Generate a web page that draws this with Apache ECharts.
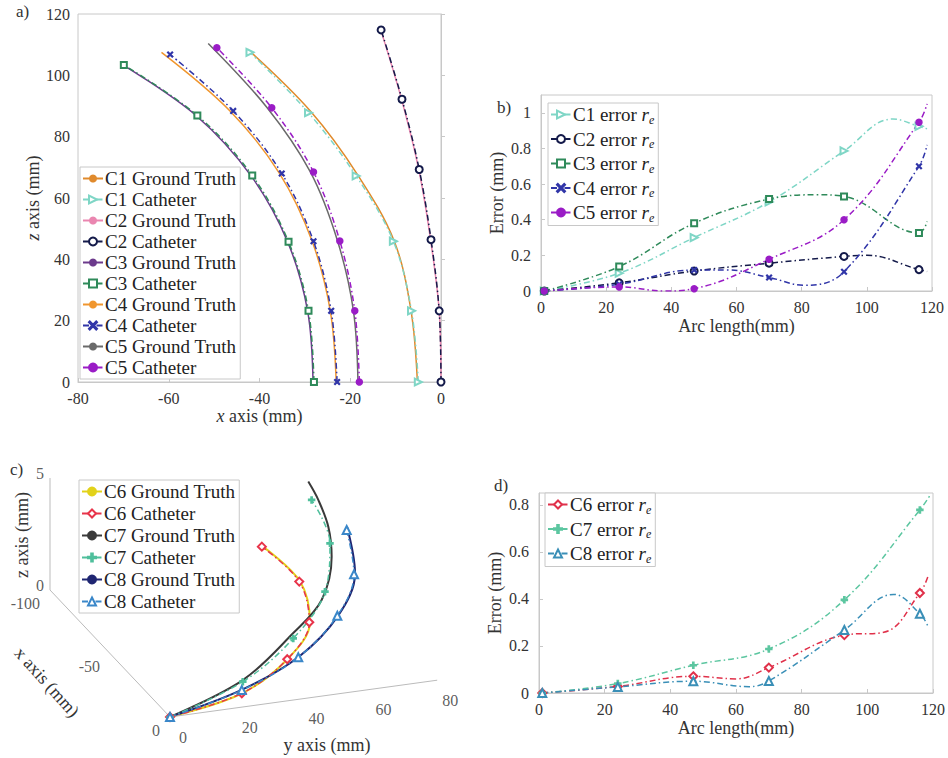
<!DOCTYPE html>
<html>
<head>
<meta charset="utf-8">
<script src="https://cdn.jsdelivr.net/npm/echarts@6.0.0/dist/echarts.min.js"></script>
<style>
html, body { margin: 0; padding: 0; background: #fff; }
#main { width: 948px; height: 758px; }
</style>
</head>
<body>
<div id="main"></div>
<script>
// ---- panel a : catheter shapes in the x-z plane (mm) ----
var aXTicks = [-80, -60, -40, -20, 0];
var aZTicks = [0, 20, 40, 60, 80, 100, 120];

var c1CathX = [-5.0, -6.5, -10.5, -18.7, -29.2, -42.1];
var c1CathZ = [0, 23.2, 45.9, 67.2, 87.8, 107.5];
var c1TruthX = [-5.2, -6.6, -10.3, -18.3, -28.7, -42.6];
var c1TruthZ = [0, 23.2, 45.9, 67.4, 88.2, 108.5];

var c2CathX = [0, -0.4, -2.2, -4.8, -8.6, -13.2];
var c2CathZ = [0, 23.2, 46.4, 69.3, 92.2, 114.8];
var c2TruthX = [0, -0.4, -2.3, -4.9, -8.7, -13.3];
var c2TruthZ = [0, 23.2, 46.4, 69.3, 92.2, 114.9];

var c3CathX = [-28.0, -29.2, -33.6, -41.6, -53.7, -69.9];
var c3CathZ = [0, 23.2, 45.7, 67.3, 86.9, 103.4];
var c3TruthX = [-28.2, -29.4, -33.8, -41.9, -54.0, -70.3];
var c3TruthZ = [0, 23.2, 45.7, 67.3, 86.9, 103.6];

var c4CathX = [-22.9, -24.2, -28.1, -35.1, -45.8, -59.7];
var c4CathZ = [0, 23.2, 45.9, 68.0, 88.4, 106.8];
var c4TruthX = [-23.1, -24.4, -28.4, -35.6, -46.5, -61.6];
var c4TruthZ = [0, 23.2, 45.9, 68.0, 88.4, 107.5];

var c5CathX = [-18.0, -19.0, -22.3, -28.1, -37.3, -49.4];
var c5CathZ = [0, 23.2, 46.0, 68.5, 89.4, 109.0];
var c5TruthX = [-18.3, -19.3, -22.8, -28.8, -38.4, -51.3];
var c5TruthZ = [0, 23.2, 46.0, 68.5, 89.6, 110.4];

// ---- panels b, d : error along the arc ----
var arcLen = [1, 24, 47, 70, 93, 116];
var errC1 = [0, 0.10, 0.30, 0.50, 0.786, 0.924];
var errC2 = [0, 0.046, 0.112, 0.156, 0.194, 0.12];
var errC3 = [0, 0.137, 0.38, 0.516, 0.531, 0.326];
var errC4 = [0, 0.038, 0.118, 0.076, 0.108, 0.70];
var errC5 = [0, 0.023, 0.013, 0.178, 0.40, 0.947];
var errC6 = [0, 0.028, 0.071, 0.108, 0.246, 0.425];
var errC7 = [0, 0.04, 0.118, 0.187, 0.396, 0.778];
var errC8 = [0, 0.026, 0.05, 0.051, 0.268, 0.337];
// spline points between / after the markers (no marker drawn)
var bendC1 = [[108, 0.965], [118.5, 0.91]];
var bendC2 = [[100, 0.2], [118.5, 0.11]];
var bendC3 = [[85, 0.54], [118.5, 0.39]];
var bendC4 = [[57, 0.118], [81, 0.032], [118.5, 0.82]];
var bendC5 = [[38, 0.0], [118.5, 1.05]];
var bendC6 = [[60, 0.06], [105, 0.258], [118.5, 0.497]];
var bendC7 = [[119, 0.838]];
var bendC8 = [[64, 0.027], [108, 0.419], [118.5, 0.283]];
var errXTicks = [0, 20, 40, 60, 80, 100, 120];

// ---- panel c : 3-D shapes (y, z in mm, curves lie in the x = 0 plane) ----
var c6CathY = [0, 21.5, 35.1, 41.7, 38.7, 27.5];
var c6CathZ = [0, 0.62, 1.86, 3.37, 5.25, 7.04];
var c6TruthY = [0, 21.3, 35.0, 41.9, 38.9, 27.3];
var c6TruthZ = [0, 0.6, 1.84, 3.37, 5.26, 7.1];
var c7CathY = [0, 21.8, 36.9, 46.4, 47.9, 42.4];
var c7CathZ = [0, 1.13, 2.75, 4.64, 6.77, 8.82];
var c7TruthY = [0, 21.8, 36.9, 45.4, 48.4, 47.4, 44.4, 41.4];
var c7TruthZ = [0, 1.2, 2.99, 4.29, 6.16, 7.52, 8.78, 9.66];
var c8CathY = [0, 21.5, 38.4, 50.1, 55.1, 52.9];
var c8CathZ = [0, 0.76, 1.88, 3.49, 5.24, 7.26];
var c8TruthY = [0, 21.6, 38.6, 50.4, 55.4, 53.0];
var c8TruthZ = [0, 0.78, 1.9, 3.5, 5.26, 7.4];
var cXTicks = [-100, -50, 0];
var cYTicks = [0, 20, 40, 60, 80];
var cZTicks = [0, 5];

var SERIF = '"Liberation Serif", "Times New Roman", serif';
var BOX = '#c8c8c8';
var TXT = '#333';
var DASH = [6, 3, 1.5, 3];
var CROSS = 'path://M0,1L1,0L5,4L9,0L10,1L6,5L10,9L9,10L5,6L1,10L0,9L4,5Z';
var PLUS = 'path://M4,0H6V4H10V6H6V10H4V6H0V4H4Z';

function pairs(xs, ys) {
  return xs.map(function (x, i) { return [x, ys[i]]; });
}
function errData(ys, bends) {
  var pts = arcLen.map(function (x, i) { return { value: [x, ys[i]] }; });
  bends.forEach(function (p) { pts.push({ value: p, symbol: 'none' }); });
  pts.sort(function (p, q) { return p.value[0] - q.value[0]; });
  return pts;
}
// oblique view used in panel c (page pixels, grid 3 spans the whole page)
function proj(x, y, z) {
  return [170 + 1.2 * x + 3.34 * y, 717 + 1.27 * x - 0.46 * y - 22.4 * z];
}
function proj3(ys, zs) {
  return ys.map(function (y, i) { return proj(0, y, zs[i]); });
}

function valAxis(idx, min, max, interval, name, gap, extra) {
  var ax = {
    type: 'value', gridIndex: idx, min: min, max: max, interval: interval,
    name: name, nameLocation: 'middle', nameGap: gap,
    nameTextStyle: { fontFamily: SERIF, fontSize: 18, color: TXT,
      rich: { i: { fontFamily: SERIF, fontStyle: 'italic', fontSize: 18, color: TXT } } },
    axisLine: { show: true, lineStyle: { color: BOX } },
    axisTick: { show: true, inside: true, length: 4, lineStyle: { color: BOX } },
    axisLabel: { color: TXT, fontFamily: SERIF, fontSize: 16, margin: 8 },
    splitLine: { show: false }
  };
  return Object.assign(ax, extra || {});
}

function truth(name, color, xs, ys, idx) {
  return { name: name, type: 'line', xAxisIndex: idx, yAxisIndex: idx, data: pairs(xs, ys),
    smooth: 0.35, symbol: 'none', color: color, lineStyle: { color: color, width: 1.5 }, z: 2 };
}
function cath(name, color, xs, ys, idx, symbol, size, extra) {
  return Object.assign({ name: name, type: 'line', xAxisIndex: idx, yAxisIndex: idx, data: pairs(xs, ys),
    smooth: 0.35, symbol: symbol, symbolSize: size, showAllSymbol: true, color: color,
    itemStyle: { color: color, borderColor: color, borderWidth: 1.5 },
    lineStyle: { color: color, width: 1.5, type: DASH }, z: 3 }, extra || {});
}
function errLine(name, color, ys, bends, idx, symbol, size, extra) {
  return Object.assign({ name: name, type: 'line', xAxisIndex: idx, yAxisIndex: idx, data: errData(ys, bends),
    smooth: 0.4, symbol: symbol, symbolSize: size, showAllSymbol: true, color: color,
    itemStyle: { color: color, borderColor: color, borderWidth: 1.5 },
    lineStyle: { color: color, width: 1.5, type: DASH }, z: 3 }, extra || {});
}
function proj3Line(name, color, pts, symbol, size, dashed, extra) {
  return Object.assign({ name: name, type: 'line', xAxisIndex: 3, yAxisIndex: 3, data: pts,
    smooth: 0.35, symbol: symbol, symbolSize: size, showAllSymbol: true, color: color,
    itemStyle: { color: color, borderColor: color, borderWidth: 1.5 },
    lineStyle: { color: color, width: dashed ? 1.5 : 2, type: dashed ? DASH : 'solid' },
    z: dashed ? 3 : 2 }, extra || {});
}
function tickLabels(items, pos, align, vAlign) {
  return { type: 'scatter', xAxisIndex: 3, yAxisIndex: 3, symbolSize: 0, silent: true, data: items,
    label: { show: true, formatter: '{b}', position: pos, align: align, verticalAlign: vAlign,
      fontFamily: SERIF, fontSize: 16, color: TXT } };
}

var legendBase = {
  orient: 'vertical', itemWidth: 20, itemHeight: 10, itemGap: 5,
  backgroundColor: '#fff', borderColor: BOX, borderWidth: 1, padding: [2, 4, 2, 2],
  textStyle: { fontFamily: SERIF, fontSize: 19, color: '#222', padding: [0, 0, 0, -3],
    rich: { i: { fontFamily: SERIF, fontStyle: 'italic', fontSize: 19, color: '#222' },
            s: { fontFamily: SERIF, fontStyle: 'italic', fontSize: 12, color: '#222', padding: [10, 0, 0, 0] } } }
};
function legendAt(left, top, names, gap, fmt) {
  var lg = Object.assign({}, legendBase, { left: left, top: top, data: names, itemGap: gap });
  if (fmt) lg.formatter = function (n) { return n + ' {i|r}{s|e}'; };
  return lg;
}

var axisLineC = { color: '#bbb', width: 1 };
var FONT = '17px "Liberation Serif", serif';
var FONTN = '18px "Liberation Serif", serif';

var option = {
  animation: false,
  backgroundColor: '#fff',
  grid: [
    { left: 78, top: 14, width: 363, height: 368, show: true, borderColor: BOX, borderWidth: 1 },
    { left: 541, top: 95, width: 391, height: 196, show: true, borderColor: BOX, borderWidth: 1 },
    { left: 539, top: 493, width: 396, height: 200, show: true, borderColor: BOX, borderWidth: 1 },
    { left: 0, top: 0, width: 948, height: 758 }
  ],
  xAxis: [
    valAxis(0, aXTicks[0], aXTicks[aXTicks.length - 1], 20, '{i|x} axis (mm)', 22),
    valAxis(1, errXTicks[0], errXTicks[errXTicks.length - 1], 20, 'Arc length(mm)', 26),
    valAxis(2, errXTicks[0], errXTicks[errXTicks.length - 1], 20, 'Arc length(mm)', 26),
    { type: 'value', gridIndex: 3, min: 0, max: 948, show: false }
  ],
  yAxis: [
    valAxis(0, aZTicks[0], aZTicks[aZTicks.length - 1], 20, '{i|z} axis (mm)', 31),
    valAxis(1, 0, 1.1, 0.2, 'Error (mm)', 35, { axisLabel: { color: TXT, fontFamily: SERIF, fontSize: 16, margin: 10, showMaxLabel: false } }),
    valAxis(2, 0, 0.85, 0.2, 'Error (mm)', 35, { axisLabel: { color: TXT, fontFamily: SERIF, fontSize: 16, margin: 10, showMaxLabel: false } }),
    { type: 'value', gridIndex: 3, min: 0, max: 758, inverse: true, show: false }
  ],
  legend: [
    legendAt(80, 167, ['C1 Ground Truth', 'C1 Catheter', 'C2 Ground Truth', 'C2 Catheter', 'C3 Ground Truth',
      'C3 Catheter', 'C4 Ground Truth', 'C4 Catheter', 'C5 Ground Truth', 'C5 Catheter'], 2),
    legendAt(548, 103, ['C1 error', 'C2 error', 'C3 error', 'C4 error', 'C5 error'], 4, true),
    legendAt(79, 480, ['C6 Ground Truth', 'C6 Catheter', 'C7 Ground Truth', 'C7 Catheter', 'C8 Ground Truth', 'C8 Catheter'], 3),
    legendAt(545, 493, ['C6 error', 'C7 error', 'C8 error'], 4, true)
  ],
  graphic: [
    { type: 'text', left: 16, top: 3, style: { text: 'a)', font: FONT, fill: TXT } },
    { type: 'text', left: 497, top: 99, style: { text: 'b)', font: FONT, fill: TXT } },
    { type: 'text', left: 10, top: 461, style: { text: 'c)', font: FONT, fill: TXT } },
    { type: 'text', left: 494, top: 477, style: { text: 'd)', font: FONT, fill: TXT } },
    { type: 'text', x: 22, y: 535, rotation: Math.PI / 2, style: { text: 'z axis (mm)', font: FONTN, fill: TXT, align: 'center', verticalAlign: 'middle' } },
    { type: 'text', x: 47, y: 682, rotation: -0.84, style: { text: 'x axis (mm)', font: FONTN, fill: TXT, align: 'center', verticalAlign: 'middle' } },
    { type: 'text', x: 327, y: 745, style: { text: 'y axis (mm)', font: FONTN, fill: TXT, align: 'center', verticalAlign: 'middle' } }
  ],
  series: [
    // panel a
    truth('C1 Ground Truth', '#e08a2c', c1TruthX, c1TruthZ, 0),
    truth('C2 Ground Truth', '#ea86b0', c2TruthX, c2TruthZ, 0),
    truth('C3 Ground Truth', '#6c3a8c', c3TruthX, c3TruthZ, 0),
    truth('C4 Ground Truth', '#f0962e', c4TruthX, c4TruthZ, 0),
    truth('C5 Ground Truth', '#6a6a6a', c5TruthX, c5TruthZ, 0),
    cath('C1 Catheter', '#7fd6c6', c1CathX, c1CathZ, 0, 'emptyTriangle', 7, { symbolRotate: -90 }),
    cath('C2 Catheter', '#141a4a', c2CathX, c2CathZ, 0, 'emptyCircle', 7),
    cath('C3 Catheter', '#2f8a5a', c3CathX, c3CathZ, 0, 'emptyRect', 6),
    cath('C4 Catheter', '#3035a8', c4CathX, c4CathZ, 0, CROSS, 5),
    cath('C5 Catheter', '#9a1cc6', c5CathX, c5CathZ, 0, 'circle', 6),
    // panel b
    errLine('C1 error', '#7fd6c6', errC1, bendC1, 1, 'emptyTriangle', 7, { symbolRotate: -90 }),
    errLine('C2 error', '#141a4a', errC2, bendC2, 1, 'emptyCircle', 7),
    errLine('C3 error', '#2f8a5a', errC3, bendC3, 1, 'emptyRect', 6),
    errLine('C4 error', '#3035a8', errC4, bendC4, 1, CROSS, 5),
    errLine('C5 error', '#9a1cc6', errC5, bendC5, 1, 'circle', 6),
    // panel d
    errLine('C6 error', '#e0314a', errC6, bendC6, 2, 'emptyDiamond', 8),
    errLine('C7 error', '#5cc6a0', errC7, bendC7, 2, PLUS, 6),
    errLine('C8 error', '#3a8fb7', errC8, bendC8, 2, 'emptyTriangle', 8),
    // panel c: box axes
    { type: 'line', xAxisIndex: 3, yAxisIndex: 3, silent: true, symbol: 'none', lineStyle: axisLineC,
      data: [proj(cXTicks[0], 0, cZTicks[1]), proj(cXTicks[0], 0, 0), proj(0, 0, 0), proj(0, cYTicks[cYTicks.length - 1], 0)] },
    tickLabels(cXTicks.map(function (v) { return { name: String(v), value: proj(v, 0, 0) }; }), [-10, 13], 'right', 'middle'),
    tickLabels(cYTicks.map(function (v) { return { name: String(v), value: proj(0, v, 0) }; }), [13, 20], 'center', 'middle'),
    tickLabels(cZTicks.map(function (v) { return { name: String(v), value: proj(cXTicks[0], 0, v) }; }), [-6, -5], 'right', 'middle'),
    proj3Line('C6 Ground Truth', '#e2d21a', proj3(c6TruthY, c6TruthZ), 'none', 0, false),
    proj3Line('C7 Ground Truth', '#3a3a3a', proj3(c7TruthY, c7TruthZ), 'none', 0, false),
    proj3Line('C8 Ground Truth', '#1f2672', proj3(c8TruthY, c8TruthZ), 'none', 0, false),
    proj3Line('C6 Catheter', '#e8344a', proj3(c6CathY, c6CathZ), 'emptyDiamond', 8, true),
    proj3Line('C7 Catheter', '#4fbf9c', proj3(c7CathY, c7CathZ), PLUS, 6, true),
    proj3Line('C8 Catheter', '#3a87c9', proj3(c8CathY, c8CathZ), 'emptyTriangle', 8, true)
  ]
};

var chart = echarts.init(document.getElementById('main'), null, { renderer: 'svg' });
chart.setOption(option);
</script>
</body>
</html>
